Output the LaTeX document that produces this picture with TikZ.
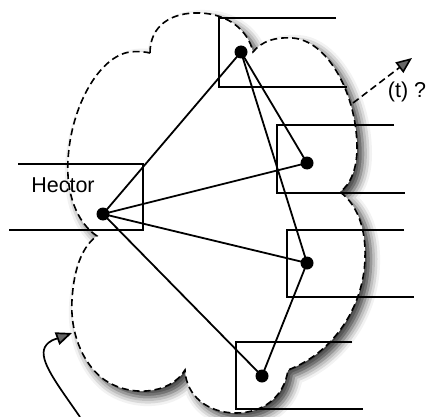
\documentclass[tikz,border=0pt]{standalone}
\usepackage{fontspec}
\setmainfont{Liberation Sans}
\usetikzlibrary{arrows.meta,shadows.blur}
\begin{document}
\begin{tikzpicture}[x=1pt,y=-1pt,
  cloudline/.style={draw=black,line width=1.6pt,dash pattern=on 7pt off 4pt,fill=white,
    blur shadow={shadow xshift=6pt,shadow yshift=-6pt,shadow blur radius=9pt,shadow opacity=80}},
  boxline/.style={draw=black,line width=1.7pt},
  edge/.style={draw=black,line width=1.8pt},
  dot/.style={circle,fill=black,inner sep=0pt,minimum size=13pt},
  lbl/.style={font=\fontsize{21.5}{26}\selectfont,inner sep=0pt},
  tip/.style={-{Triangle[length=16pt,width=13pt]}}]
\useasboundingbox (0,0) rectangle (428,417);
% cloud
\path[cloudline] (150,53) .. controls (150,25) and (172,12) .. (200,13)
  .. controls (228,14) and (248,30) .. (253,52)
  .. controls (262,41) and (275,37) .. (292,38)
  .. controls (328,40) and (357,95) .. (357,148)
  .. controls (357,168) and (351,184) .. (340,192)
  .. controls (358,205) and (366,230) .. (365,258)
  .. controls (364,305) and (335,352) .. (288,370)
  .. controls (284,398) and (262,413) .. (236,413)
  .. controls (208,413) and (186,396) .. (185,370)
  .. controls (170,395) and (128,398) .. (102,378)
  .. controls (82,362) and (70,332) .. (72,300)
  .. controls (74,265) and (84,245) .. (97,236)
  .. controls (76,222) and (66,192) .. (68,160)
  .. controls (71,105) and (100,56) .. (130,52)
  .. controls (138,51) and (146,52) .. (150,53) -- cycle;
% boxes
\draw[boxline] (18,164) -- (143,164) -- (143,230) -- (9,230);
\draw[boxline] (336,18) -- (219,18) -- (219,87) -- (347,87);
\draw[boxline] (394,125) -- (277,125) -- (277,193) -- (405,193);
\draw[boxline] (404,230) -- (287,230) -- (287,297) -- (414,297);
\draw[boxline] (352,342) -- (236,342) -- (236,409) -- (363,409);
% nodes
\node[lbl] (hectorlabel) at (63,185) {Hector};
\node[dot] (hector) at (103,214) {};
\node[dot] (top) at (241,52) {};
\node[dot] (rup) at (307,163) {};
\node[dot] (rlow) at (307,263) {};
\node[dot] (bot) at (262,376) {};
% edges
\draw[edge] (hector.center) -- (top.center);
\draw[edge] (hector.center) -- (rup.center);
\draw[edge] (hector.center) -- (rlow.center);
\draw[edge] (hector.center) -- (bot.center);
\draw[edge] (top.center) -- (rup.center);
\draw[edge] (top.center) -- (rlow.center);
\draw[edge] (rlow.center) -- (bot.center);
% dashed arrow
\coordinate (tstart) at (353,103);
\coordinate (tend) at (412,58);
\draw[line width=1.6pt,dash pattern=on 7pt off 4pt,tip] (tstart) -- (tend);
\node[lbl] (tlabel) at (407,92) {(t) ?};
% curved arrow
\coordinate (cstart) at (80,417);
\coordinate (cend) at (72,333);
\draw[line width=1.7pt,tip] (cstart) .. controls (58,385) and (38,360) .. (45,347)
  .. controls (49,340) and (56,339) .. (cend);
\end{tikzpicture}
\end{document}
